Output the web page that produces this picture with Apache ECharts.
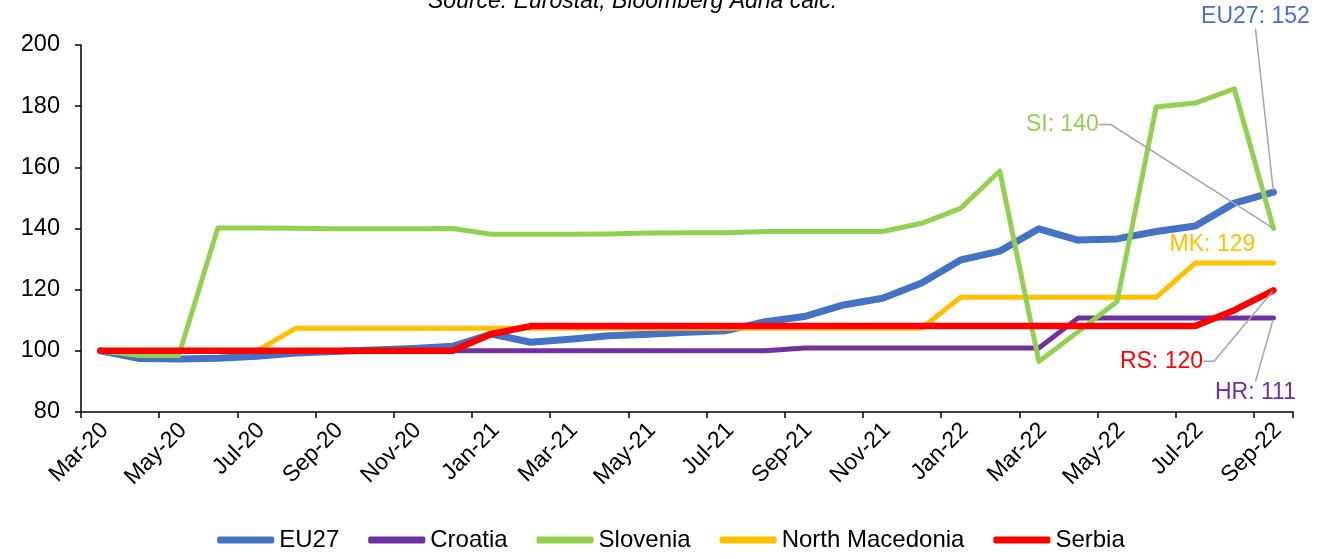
<!DOCTYPE html>
<html>
<head>
<meta charset="utf-8">
<script src="https://cdn.jsdelivr.net/npm/echarts@6/dist/echarts.min.js"></script>
<style>
html,body{margin:0;padding:0;background:#fff;}
#chart{width:1342px;height:559px;}
</style>
</head>
<body>
<div id="chart"></div>
<script>
const months = ['Mar-20','Apr-20','May-20','Jun-20','Jul-20','Aug-20','Sep-20','Oct-20','Nov-20','Dec-20',
  'Jan-21','Feb-21','Mar-21','Apr-21','May-21','Jun-21','Jul-21','Aug-21','Sep-21','Oct-21','Nov-21','Dec-21',
  'Jan-22','Feb-22','Mar-22','Apr-22','May-22','Jun-22','Jul-22','Aug-22','Sep-22'];

const eu27 = [100, 97.5, 97.3, 97.6, 98.2, 99.3, 99.8, 100.3, 100.8, 101.5,
  105.5, 102.8, 103.8, 104.9, 105.4, 106.1, 106.6, 109.5, 111.2, 115.0, 117.2, 122.2,
  129.7, 132.6, 139.9, 136.2, 136.6, 139.0, 140.8, 148.3, 151.9];
const croatia = [100, 100, 100, 100, 100, 100, 100, 100, 100, 100,
  100, 100, 100, 100, 100, 100, 100, 100, 100.9, 100.9, 100.9, 100.9,
  100.9, 100.9, 100.9, 110.7, 110.7, 110.7, 110.7, 110.7, 110.7];
const slovenia = [100, 98.5, 98.5, 140.2, 140.2, 140.1, 139.9, 139.9, 139.9, 140.0,
  138.1, 138.1, 138.1, 138.2, 138.5, 138.6, 138.6, 139.0, 139.0, 139.0, 139.0, 141.7,
  146.6, 158.8, 96.5, 106.2, 116.1, 179.7, 181.0, 185.7, 140.0];
const northMacedonia = [100, 100, 100, 100, 100, 107.4, 107.4, 107.4, 107.4, 107.4,
  107.4, 107.4, 107.4, 107.4, 107.4, 107.4, 107.4, 107.4, 107.4, 107.4, 107.4, 107.4,
  117.5, 117.5, 117.5, 117.5, 117.5, 117.5, 128.7, 128.7, 128.7];
const serbia = [100, 100, 100, 100, 100, 100, 100, 100, 100, 100,
  105.5, 108.1, 108.1, 108.1, 108.1, 108.1, 108.1, 108.1, 108.1, 108.1, 108.1, 108.1,
  108.1, 108.1, 108.1, 108.1, 108.1, 108.1, 108.1, 113.3, 119.8];

const yTicks = {min: 80, max: 200, interval: 20};
const sourceText = 'Source: Eurostat, Bloomberg Adria calc.';

const seriesDefs = [
  {name: 'EU27', code: 'EU27', data: eu27, color: '#4472C4', width: 7, z: 2, off: [-18, -175], guide: true, len2: 0},
  {name: 'Croatia', code: 'HR', data: croatia, color: '#7030A0', width: 5, z: 3, off: [-18, 75], guide: true, len2: 0},
  {name: 'Slovenia', code: 'SI', data: slovenia, color: '#92D050', width: 5, z: 5, off: [-211, -104], guide: true, len2: 12},
  {name: 'North Macedonia', code: 'MK', data: northMacedonia, color: '#FFC000', width: 5, z: 4, off: [-61, -18], guide: false, len2: 0},
  {name: 'Serbia', code: 'RS', data: serbia, color: '#FF0000', width: 6.5, z: 6, off: [-112, 71], guide: true, len2: 11}
];

const FONT = "'Liberation Sans', Arial, sans-serif";

const chart = echarts.init(document.getElementById('chart'), null, {renderer: 'canvas'});

const series = seriesDefs.map(d => {
  const n = d.data.length;
  const data = d.data.map((v, i) => {
    if (i < n - 1) return {value: v, symbol: 'none'};
    return {
      value: v,
      symbol: 'circle',
      symbolSize: 3,
      label: {
        show: true,
        position: 'inside',
        formatter: d.code + ': ' + Math.round(v),
        color: d.color,
        fontSize: 23,
        fontFamily: FONT
      },
      labelLine: {
        show: d.guide,
        length2: d.len2,
        lineStyle: {color: '#A6A6A6', width: 1.5}
      }
    };
  });
  return {
    name: d.name,
    type: 'line',
    data: data,
    z: d.z,
    symbol: 'none',
    showSymbol: true,
    silent: true,
    animation: false,
    itemStyle: {color: d.color},
    lineStyle: {color: d.color, width: d.width, cap: 'round', join: 'round'},
    labelLayout: function (p) {
      const cx = p.rect.x + p.rect.width / 2;
      const cy = p.rect.y + p.rect.height / 2;
      return {x: cx + d.off[0], y: cy + d.off[1], align: 'center', verticalAlign: 'middle'};
    }
  };
});

chart.setOption({
  animation: false,
  backgroundColor: '#ffffff',
  title: {
    text: sourceText,
    left: 428,
    top: -10,
    padding: 0,
    textStyle: {fontStyle: 'italic', fontWeight: 'normal', fontSize: 23, color: '#000', fontFamily: FONT}
  },
  grid: {left: 81, right: 49, top: 45, bottom: 147, containLabel: false},
  legend: {
    bottom: 2,
    left: 'center',
    itemWidth: 57,
    itemHeight: 7,
    itemGap: 29,
    icon: 'roundRect',
    textStyle: {fontSize: 24, color: '#000', fontFamily: FONT},
    data: seriesDefs.map(d => d.name)
  },
  xAxis: {
    type: 'category',
    data: months,
    boundaryGap: true,
    axisLine: {lineStyle: {color: '#000', width: 1.5}},
    axisTick: {show: true, interval: 1, alignWithLabel: false, length: 6, lineStyle: {color: '#000', width: 1.5}},
    axisLabel: {interval: 1, rotate: 45, fontSize: 23, color: '#000', fontFamily: FONT, margin: 19, padding: [0, -6, 0, 0]},
    splitLine: {show: false}
  },
  yAxis: {
    type: 'value',
    min: yTicks.min,
    max: yTicks.max,
    interval: yTicks.interval,
    axisLine: {show: true, lineStyle: {color: '#000', width: 1.5}},
    axisTick: {show: true, length: 6, lineStyle: {color: '#000', width: 1.5}},
    axisLabel: {fontSize: 23.5, color: '#000', fontFamily: FONT, margin: 21},
    splitLine: {show: false}
  },
  series: series
});
</script>
</body>
</html>
